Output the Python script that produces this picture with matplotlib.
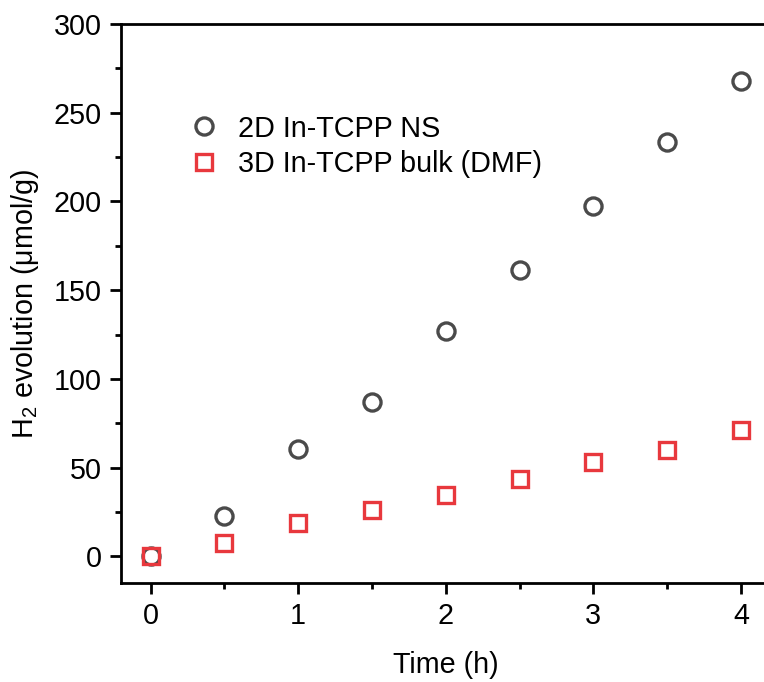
import matplotlib
matplotlib.use("Agg")
import matplotlib.pyplot as plt
from matplotlib.ticker import MultipleLocator

plt.rcParams['font.family'] = ['Liberation Sans', 'DejaVu Sans']
plt.rcParams['mathtext.fontset'] = 'custom'
plt.rcParams['mathtext.rm'] = 'Liberation Sans'

time_h = [0, 0.5, 1, 1.5, 2, 2.5, 3, 3.5, 4]
ns_2d = [0, 22.5, 60.3, 86.8, 126.8, 161.2, 197.3, 233.4, 267.8]
bulk_3d = [0, 7.3, 18.6, 25.9, 34.4, 43.4, 53.0, 59.8, 71.0]

FS = 20.7

fig = plt.figure(figsize=(7.64, 6.82), dpi=100)
ax = fig.add_axes([121/764, 1-583/682, (770.5-121)/764, (583-24)/682])

ax.plot(time_h, ns_2d, linestyle='none', marker='o', markersize=12.3,
        markerfacecolor='none', markeredgecolor='#4a4a4a', markeredgewidth=2.4,
        label='2D In-TCPP NS', zorder=2)
ax.plot(time_h, bulk_3d, linestyle='none', marker='s', markersize=11.2,
        markerfacecolor='none', markeredgecolor='#e8383d', markeredgewidth=2.4,
        label='3D In-TCPP bulk (DMF)', zorder=3)

ax.set_xlim(-0.2, 4.2)
ax.set_ylim(-15, 300)
ax.xaxis.set_major_locator(MultipleLocator(1))
ax.xaxis.set_minor_locator(MultipleLocator(0.5))
ax.yaxis.set_major_locator(MultipleLocator(50))
ax.yaxis.set_minor_locator(MultipleLocator(25))

for s in ax.spines.values():
    s.set_linewidth(2.0)
ax.tick_params(which='major', direction='out', length=8, width=2.0, labelsize=FS, pad=6)
ax.tick_params(which='minor', direction='out', length=4.5, width=2.0)
ax.tick_params(top=False, right=False)

ax.set_xlabel('Time (h)', fontsize=FS, labelpad=15)
ax.set_ylabel('H$_\\mathrm{2}$ evolution (μmol/g)', fontsize=FS, labelpad=9)

ax.legend(loc='upper left', bbox_to_anchor=(0.106, 0.838), frameon=False,
          fontsize=FS, handlelength=1.0, handletextpad=0.67, labelspacing=0.27,
          borderpad=0, borderaxespad=0)

fig.savefig('out.png', dpi=100)
